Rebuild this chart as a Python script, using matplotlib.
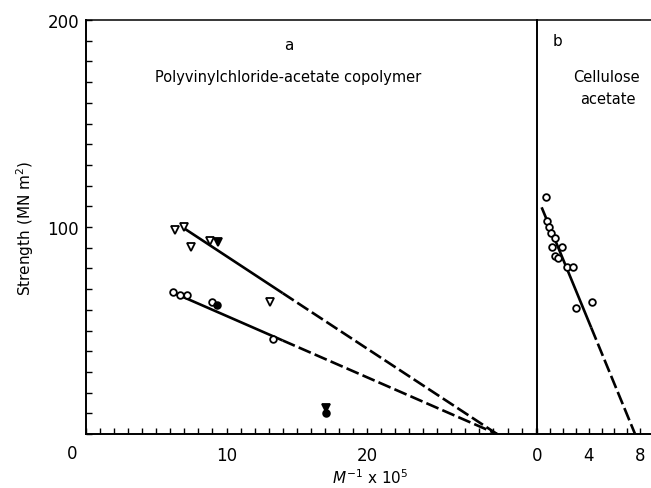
import numpy as np
import matplotlib
matplotlib.use("Agg")
import matplotlib.pyplot as plt
import matplotlib.transforms as mtransforms

# panel a: polyvinylchloride-acetate copolymer
tri_open_x = [6.3, 6.95, 7.45, 8.85, 13.1]
tri_open_y = [98.6, 100.0, 90.3, 93.2, 63.8]
tri_fill_x = [9.4, 17.1]
tri_fill_y = [92.8, 12.5]
circ_open_x = [6.2, 6.7, 7.2, 9.0, 13.3]
circ_open_y = [68.6, 67.1, 67.1, 63.8, 45.9]
circ_fill_x = [9.3, 17.1]
circ_fill_y = [62.3, 10.0]

# fitted lines: (x start, y start, x break solid->dashed, x intercept)
line_tri = [6.95, 99.5, 14.0, 29.25]
line_circ = [6.3, 68.0, 14.0, 29.25]

# panel b: cellulose acetate
ca_x = [0.67, 0.78, 0.95, 1.09, 1.40, 1.14, 1.94, 1.40, 1.65, 2.30, 2.81, 4.24, 3.00]
ca_y = [114.3, 103.0, 100.0, 97.1, 94.5, 90.3, 90.5, 85.8, 85.2, 80.8, 80.8, 63.9, 60.9]
line_ca = [0.36, 109.5, 4.2, 7.6]

W, H = 651, 489
fig = plt.figure(figsize=(W / 100, H / 100), dpi=100)
bot = (H - 435) / H
top = (H - 21) / H
axa = fig.add_axes([86 / W, bot, (537 - 86) / W, top - bot])
axb = fig.add_axes([537 / W, bot, (W - 537) / W, top - bot])

fs = 12


def draw_line(ax, p):
    x0, y0, xb, x1 = p
    yb = np.interp(xb, [x0, x1], [y0, 0])
    ax.plot([x0, xb], [y0, yb], color="black", lw=1.9, solid_capstyle="butt")
    ax.plot([xb, x1], [yb, 0], color="black", lw=1.9, dashes=(5, 1.6))


draw_line(axa, line_tri)
draw_line(axa, line_circ)
axa.plot(tri_open_x, tri_open_y, "v", ms=5.5, mfc="white", mec="black", mew=1.3, ls="none", zorder=3)
axa.plot(tri_fill_x, tri_fill_y, "v", ms=5.5, mfc="black", mec="black", mew=1.3, ls="none", zorder=3)
axa.plot(circ_open_x, circ_open_y, "o", ms=4.8, mfc="white", mec="black", mew=1.3, ls="none", zorder=3)
axa.plot(circ_fill_x, circ_fill_y, "o", ms=4.8, mfc="black", mec="black", mew=1.3, ls="none", zorder=3)

draw_line(axb, line_ca)
axb.plot(ca_x, ca_y, "o", ms=4.8, mfc="white", mec="black", mew=1.3, ls="none", zorder=3)

axa.set_xlim(0, 451 / 14.05)
axb.set_xlim(0, 114 / 12.9)
for ax in (axa, axb):
    ax.set_ylim(0, 200)
    ax.spines["right"].set_visible(False)
    ax.spines["left"].set_linewidth(1.4)
    ax.spines["bottom"].set_linewidth(1.4)
    ax.spines["top"].set_linewidth(1.1)
    ax.tick_params(direction="in", length=4, width=1.0, labelsize=fs, pad=9)
    ax.tick_params(which="minor", direction="in", length=4, width=1.0)

axa.set_xticks(range(0, 33), minor=True)
axa.set_xticks([10, 20])
axa.set_yticks(range(0, 201, 10), minor=True)
axa.set_yticks([100, 200])
axa.tick_params(axis="y", pad=5)
axb.set_xticks(range(0, 9), minor=True)
axb.set_xticks([0, 4, 8])
axb.set_yticks([])

trans = mtransforms.blended_transform_factory(axa.transData, axa.transAxes)
axa.text(-1.0, -0.025, "0", transform=trans, ha="center", va="top", fontsize=fs)

axa.set_ylabel("Strength (MN m$^{2}$)", fontsize=11, labelpad=8)
fig.text(370 / W, 1 - 478 / H, r"$M^{-1}$ x 10$^{5}$", ha="center", va="center", fontsize=11)

axa.text(14.4, 188, "a", ha="center", va="center", fontsize=11)
axa.text(14.4, 172.5, "Polyvinylchloride-acetate copolymer", ha="center", va="center", fontsize=10.5)
axb.text(1.6, 190, "b", ha="center", va="center", fontsize=11)
axb.text(5.4, 172.5, "Cellulose", ha="center", va="center", fontsize=10.5)
axb.text(5.5, 162, "acetate", ha="center", va="center", fontsize=10.5)

fig.savefig("out.png", dpi=100)
